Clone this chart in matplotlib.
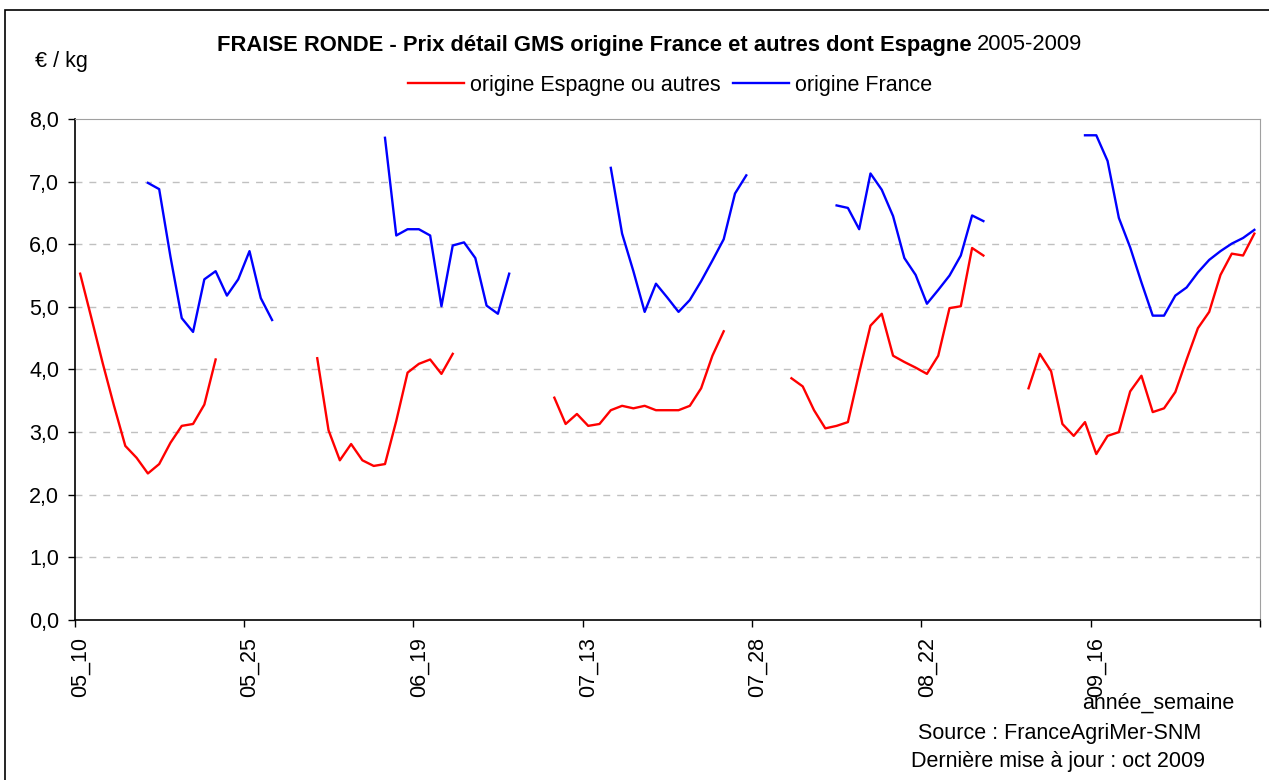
import numpy as np
import matplotlib
matplotlib.use("Agg")
import matplotlib.pyplot as plt
from matplotlib.patches import Rectangle

plt.rcParams['font.family'] = ['Liberation Sans', 'DejaVu Sans']

# categories: year_week, weeks 10..30 of each season 2005-2009
years = ['05', '06', '07', '08', '09']
weeks = list(range(10, 31))
categories = [y + '_' + '%02d' % w for y in years for w in weeks]

nan = np.nan
# origine Espagne ou autres (red), one list per season, weeks 10..30
esp_05 = [5.53, 4.82, 4.10, 3.42, 2.78, 2.59, 2.34, 2.49, 2.83, 3.10, 3.13, 3.44, 4.16,
          nan, nan, nan, nan, nan, nan, nan, nan]
esp_06 = [4.18, 3.03, 2.55, 2.81, 2.55, 2.46, 2.49, 3.18, 3.95, 4.09, 4.16, 3.93, 4.25,
          nan, nan, nan, nan, nan, nan, nan, nan]
esp_07 = [3.55, 3.13, 3.29, 3.10, 3.13, 3.35, 3.42, 3.38, 3.42, 3.35, 3.35, 3.35, 3.42,
          3.70, 4.22, 4.61, nan, nan, nan, nan, nan]
esp_08 = [3.86, 3.73, 3.35, 3.06, 3.10, 3.16, 3.95, 4.70, 4.89, 4.22, 4.12, 4.03, 3.93,
          4.22, 4.98, 5.01, 5.94, 5.82, nan, nan, nan]
esp_09 = [3.70, 4.25, 3.97, 3.13, 2.94, 3.16, 2.65, 2.94, 3.00, 3.65, 3.90, 3.32, 3.38,
          3.64, 4.16, 4.66, 4.92, 5.51, 5.85, 5.82, 6.17]

# origine France (blue)
fr_05 = [nan, nan, nan, nan, nan, nan, 6.98, 6.88, 5.80, 4.82, 4.60, 5.44, 5.57,
         5.18, 5.44, 5.89, 5.14, 4.79, nan, nan, nan]
fr_06 = [nan, nan, nan, nan, nan, nan, 7.70, 6.14, 6.24, 6.24, 6.14, 5.01, 5.98,
         6.03, 5.78, 5.02, 4.89, 5.53, nan, nan, nan]
fr_07 = [nan, nan, nan, nan, nan, 7.22, 6.17, 5.57, 4.92, 5.37, 5.15, 4.92, 5.11,
         5.41, 5.74, 6.08, 6.81, 7.10, nan, nan, nan]
fr_08 = [nan, nan, nan, nan, 6.62, 6.58, 6.24, 7.13, 6.87, 6.45, 5.78, 5.51, 5.05,
         5.27, 5.50, 5.82, 6.46, 6.37, nan, nan, nan]
fr_09 = [nan, nan, nan, nan, nan, 7.74, 7.74, 7.33, 6.42, 5.95, 5.39, 4.86, 4.86,
         5.18, 5.31, 5.55, 5.75, 5.89, 6.01, 6.10, 6.23]

espagne = esp_05 + esp_06 + esp_07 + esp_08 + esp_09
france = fr_05 + fr_06 + fr_07 + fr_08 + fr_09

W, H = 1269, 780
fs = 15.5
fig = plt.figure(figsize=(W / 100, H / 100), dpi=100)
fig.patches.append(Rectangle((5 / W, -0.01), 1.02, 1 - 10 / H + 0.01, transform=fig.transFigure,
                             fill=False, edgecolor='black', linewidth=1.2))

ax = fig.add_axes([74.5 / W, 1 - 620 / H, (1260 - 74.5) / W, (620 - 119) / H])
x = np.arange(len(categories))
ax.plot(x, espagne, color='#FF0000', linewidth=1.7, label='origine Espagne ou autres')
ax.plot(x, france, color='#0000FF', linewidth=1.7, label='origine France')

ax.set_xlim(-0.5, len(categories) - 0.5)
ax.set_ylim(0, 8)
ax.set_yticks(np.arange(0, 9, 1))
ax.yaxis.set_major_formatter(matplotlib.ticker.FuncFormatter(lambda v, p: ('%.1f' % v).replace('.', ',')))
for v in range(1, 8):
    ax.axhline(v, color='#C0C0C0', linewidth=1, linestyle=(0, (5, 5)), zorder=0)

# tick marks between categories, labels centred on categories
step = 15
ax.set_xticks(np.arange(-0.5, len(categories), step))
ax.set_xticklabels([])
ax.set_xticks(np.arange(0, len(categories), step), minor=True)
ax.set_xticklabels([categories[i] for i in range(0, len(categories), step)], minor=True,
                   rotation=90, fontsize=fs)
ax.tick_params(axis='x', which='minor', length=0, pad=12)
ax.tick_params(axis='x', which='major', length=5, width=1, direction='out')
ax.tick_params(axis='y', length=5, width=1, direction='out', labelsize=fs, pad=6)

for s in ['top', 'right']:
    ax.spines[s].set_color('#A0A0A0')
for s in ['left', 'bottom']:
    ax.spines[s].set_color('black')
    ax.spines[s].set_linewidth(1.2)

fig.text(972 / W, 1 - 45 / H, 'FRAISE RONDE - Prix détail GMS origine France et autres dont Espagne',
         ha='right', va='center', fontsize=15.8, fontweight='bold')
fig.text(977 / W, 1 - 45 / H, '2005-2009', ha='left', va='center', fontsize=15.8)
fig.text(35 / W, 1 - 61 / H, '€ / kg', ha='left', va='center', fontsize=fs)

fig.legend(loc='center', bbox_to_anchor=(670 / W, 1 - 85 / H), ncol=2, frameon=False,
           fontsize=fs, handlelength=2.6, handletextpad=0.3, columnspacing=0.55)

fig.text(1158 / W, 1 - 703 / H, 'année_semaine', ha='center', va='center', fontsize=fs)
fig.text(1060 / W, 1 - 733 / H, 'Source : FranceAgriMer-SNM', ha='center', va='center', fontsize=fs)
fig.text(1058 / W, 1 - 762 / H, 'Dernière mise à jour : oct 2009', ha='center', va='center', fontsize=fs)

fig.savefig('out.png', dpi=100)
